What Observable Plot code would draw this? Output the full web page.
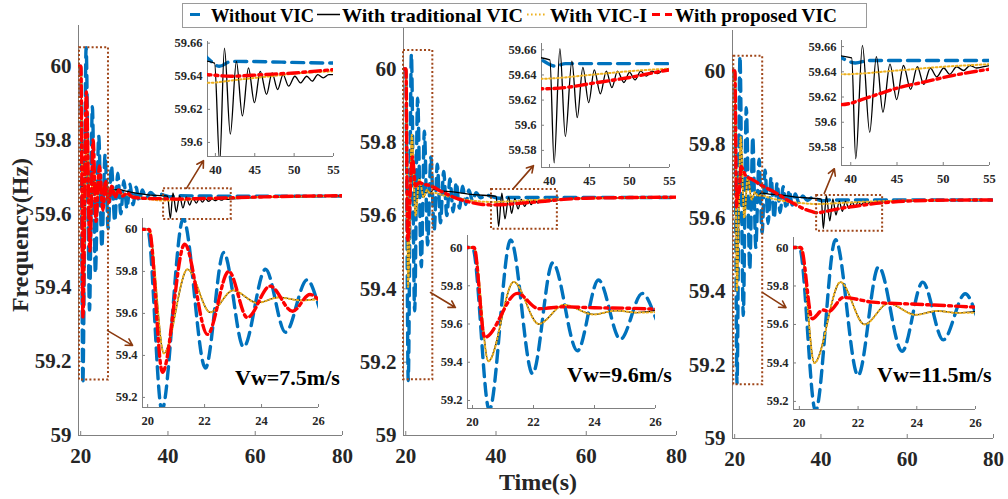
<!DOCTYPE html>
<html><head><meta charset="utf-8">
<script src="https://cdn.jsdelivr.net/npm/d3@7"></script>
<script src="https://cdn.jsdelivr.net/npm/@observablehq/plot@0.6"></script>
<style>
body{margin:0;background:#fff}
#root{position:relative;width:1008px;height:499px;background:#fff;overflow:hidden}
#root svg{position:absolute}
#root svg text{font-family:'Liberation Serif','Times New Roman',serif !important;font-weight:bold !important}
</style></head>
<body><div id="root"></div>
<script>
// ---------- data ----------
const seriesNames = ["Without VIC", "With traditional VIC", "With VIC-I", "With proposed VIC"];
const windLabels = ["Vw=7.5m/s", "Vw=9.6m/s", "Vw=11.5m/s"];

const timeTicksMain = [20, 40, 60, 80];
const freqTicksMain = [59, 59.2, 59.4, 59.6, 59.8, 60];
const timeTicksLate = [40, 45, 50, 55];
const freqTicksLate1 = [59.6, 59.62, 59.64, 59.66];
const freqTicksLate = [59.58, 59.6, 59.62, 59.64, 59.66];
const timeTicksEarly = [20, 22, 24, 26];
const freqTicksEarly = [59.2, 59.4, 59.6, 59.8, 60];

// Panel 1 (Vw = 7.5 m/s): [time s, frequency Hz]
const p1Without = [[19.5,60],[20.0,60],[20.5,59.14],[21.25,60.05],[22.03,59.34],[22.67,59.89],[23.37,59.44],[24.14,59.81],[24.84,59.51],[25.6,59.76],[26.3,59.56],[27.05,59.73],[27.8,59.58],[28.5,59.71],[29.2,59.6],[29.9,59.69],[30.6,59.615],[31.3,59.68],[32.0,59.625],[32.7,59.672],[33.4,59.633],[34.1,59.665],[35,59.642],[36,59.658],[37.2,59.648],[38.5,59.653],[39,59.651],[40.5,59.646],[42,59.649],[55,59.648],[80,59.648]];
const p1Traditional = [[19.5,60],[20.05,60],[20.57,59.41],[21.4,59.81],[22.2,59.605],[23.0,59.71],[23.85,59.65],[24.6,59.676],[25.4,59.662],[26.2,59.672],[27.2,59.664],[28.5,59.666],[31,59.66],[35,59.652],[39.9,59.648],[40.55,59.588],[41.15,59.657],[41.9,59.605],[42.67,59.649],[43.43,59.616],[44.2,59.645],[44.96,59.624],[45.7,59.643],[46.5,59.629],[47.2,59.642],[47.9,59.632],[48.6,59.641],[49.3,59.634],[50.1,59.64],[50.8,59.636],[51.6,59.64],[52.3,59.637],[53.0,59.641],[53.7,59.639],[54.4,59.641],[55,59.641],[58,59.643],[62,59.645],[70,59.647],[80,59.648]];
const p1VICI = [[19.5,60],[20.05,60],[20.57,59.41],[21.4,59.81],[22.2,59.605],[23.0,59.71],[23.85,59.65],[24.6,59.676],[25.4,59.662],[26.2,59.668],[28,59.66],[31,59.65],[35,59.641],[39,59.636],[43,59.638],[47,59.64],[51,59.642],[55,59.643],[62,59.646],[70,59.647],[80,59.648]];
const p1Proposed = [[19.5,60],[20.05,60],[20.52,59.32],[21.3,59.93],[22.1,59.5],[22.85,59.8],[23.5,59.58],[24.3,59.73],[25.09,59.61],[25.7,59.69],[26.4,59.63],[27.1,59.675],[27.9,59.645],[28.7,59.665],[29.6,59.648],[30.6,59.656],[32,59.645],[35,59.642],[39,59.641],[42,59.64],[46,59.641],[50,59.642],[55,59.644],[62,59.646],[70,59.648],[80,59.649]];

// Panel 2 (Vw = 9.6 m/s)
const p2Without = [[19.5,60],[20.0,60],[20.55,59.15],[21.25,60.04],[21.97,59.34],[22.63,59.92],[23.44,59.46],[24.13,59.83],[24.85,59.52],[25.57,59.76],[26.3,59.56],[27.0,59.74],[27.7,59.58],[28.4,59.72],[29.1,59.6],[29.8,59.7],[30.5,59.61],[31.2,59.69],[31.9,59.62],[32.6,59.68],[33.3,59.63],[34,59.67],[34.8,59.64],[35.6,59.662],[36.6,59.648],[37.8,59.656],[39,59.652],[40.7,59.647],[42,59.649],[55,59.649],[80,59.649]];
const p2Traditional = [[19.5,60],[20.05,60],[20.52,59.405],[21.35,59.82],[22.17,59.6],[23.0,59.7],[23.97,59.65],[24.7,59.67],[25.4,59.66],[26.2,59.672],[27.5,59.668],[30,59.665],[35,59.657],[40.05,59.652],[40.58,59.57],[41.3,59.661],[41.98,59.591],[42.8,59.651],[43.47,59.606],[44.17,59.646],[44.9,59.618],[45.6,59.644],[46.36,59.625],[47.1,59.643],[47.8,59.63],[48.5,59.643],[49.3,59.634],[50.0,59.642],[50.7,59.636],[51.4,59.643],[52.1,59.639],[52.8,59.643],[53.5,59.641],[54.2,59.644],[55,59.645],[60,59.647],[70,59.648],[80,59.649]];
const p2VICI = [[19.5,60],[20.05,60],[20.52,59.405],[21.35,59.82],[22.17,59.6],[23.0,59.7],[23.97,59.65],[24.7,59.67],[25.4,59.66],[26.2,59.662],[28,59.656],[31,59.648],[35,59.64],[39,59.637],[45,59.64],[50,59.643],[55,59.645],[62,59.647],[80,59.649]];
const p2Proposed = [[19.5,60],[20.05,60],[20.4,59.53],[21.47,59.76],[22.17,59.68],[23,59.69],[24,59.685],[25,59.683],[26,59.678],[28,59.665],[31,59.648],[34,59.637],[37,59.63],[39,59.629],[42,59.63],[45,59.633],[50,59.638],[55,59.644],[60,59.647],[70,59.649],[80,59.65]];

// Panel 3 (Vw = 11.5 m/s)
const p3Without = [[19.5,60],[20.0,60],[20.55,59.15],[21.23,60.04],[22.0,59.335],[22.7,59.9],[23.5,59.46],[24.2,59.82],[24.9,59.52],[25.65,59.76],[26.35,59.56],[27.05,59.73],[27.75,59.585],[28.45,59.71],[29.15,59.6],[29.85,59.695],[30.55,59.615],[31.25,59.685],[31.95,59.625],[32.65,59.675],[33.35,59.635],[34.05,59.665],[34.9,59.642],[35.8,59.66],[36.8,59.648],[38,59.655],[39,59.651],[40.5,59.647],[42,59.649],[55,59.649],[80,59.649]];
const p3Traditional = [[19.5,60],[20.05,60],[20.51,59.4],[21.4,59.82],[22.22,59.6],[23.03,59.71],[23.95,59.65],[24.7,59.67],[25.4,59.66],[26.2,59.668],[28,59.665],[31,59.662],[35,59.656],[40.1,59.651],[40.54,59.571],[41.26,59.661],[42.05,59.592],[42.77,59.652],[43.48,59.608],[44.24,59.646],[44.96,59.618],[45.7,59.645],[46.47,59.626],[47.2,59.644],[47.9,59.63],[48.6,59.643],[49.3,59.636],[50.05,59.643],[50.7,59.638],[51.45,59.644],[52.2,59.641],[52.9,59.645],[53.6,59.643],[55,59.645],[60,59.647],[70,59.648],[80,59.649]];
const p3VICI = [[19.5,60],[20.05,60],[20.51,59.4],[21.4,59.82],[22.22,59.6],[23.03,59.71],[23.95,59.65],[24.7,59.67],[25.4,59.66],[26.2,59.662],[28,59.655],[31,59.647],[35,59.641],[39,59.638],[45,59.641],[50,59.644],[55,59.646],[62,59.648],[80,59.649]];
const p3Proposed = [[19.5,60],[20.05,60],[20.44,59.63],[20.8,59.675],[21.0,59.668],[21.5,59.74],[22.5,59.716],[24,59.705],[25,59.698],[26,59.69],[28,59.678],[30,59.665],[32,59.65],[34,59.637],[36,59.625],[38,59.617],[39,59.614],[42,59.62],[45,59.627],[48,59.632],[51,59.637],[55,59.642],[60,59.646],[66,59.648],[80,59.649]];

// zoom regions marked on the main axes (data units)
const p1Boxes = [{x1:19.73,x2:26.37,y1:59.15,y2:60.05},{x1:39,x2:54.5,y1:59.585,y2:59.668}];
const p2Boxes = [{x1:19.5,x2:26.0,y1:59.152,y2:60.05},{x1:39,x2:53.6,y1:59.5625,y2:59.671}];
const p3Boxes = [{x1:19.8,x2:26.5,y1:59.146,y2:60.04},{x1:39,x2:54.3,y1:59.564,y2:59.661}];
const p1Arrows = [{x1:44.25,y1:59.669,x2:48.14,y2:59.744},{x1:26.15,y1:59.284,x2:31.9,y2:59.244}];
const p2Arrows = [{x1:43.88,y1:59.674,x2:48.3,y2:59.736},{x1:25.48,y1:59.39,x2:31.0,y2:59.349}];
const p3Arrows = [{x1:40.77,y1:59.667,x2:43.1,y2:59.734},{x1:26.5,y1:59.397,x2:31.9,y2:59.356}];

// ---------- drawing ----------
const root = document.getElementById("root");
const axisColor = "#808080";
const serif = "'Liberation Serif','Times New Roman',serif";
const seriesStyle = [
  {stroke:"#0072BD", strokeWidth:3.4, strokeDasharray:"12,7"},
  {stroke:"#000000", strokeWidth:1.3},
  {stroke:"#EDB120", strokeWidth:2, strokeDasharray:"1.6,2.4"},
  {stroke:"#FF0000", strokeWidth:3.4, strokeDasharray:"11,4,3,4"}
];
const fmt = d => `${+d.toFixed(2)}`;

function panel(o) {
  const [L, T, W, H] = o.area;
  const m = o.margin;
  const kx = (o.xd[1]-o.xd[0])/W, ky = (o.yd[1]-o.yd[0])/H;
  const marks = [
    Plot.ruleY([o.yd[0]], {x1:o.xd[0], x2:o.xd[1], stroke:axisColor, strokeWidth:1}),
    Plot.ruleX([o.xd[0]], {y1:o.yd[0], y2:o.yd[1], stroke:axisColor, strokeWidth:1}),
    Plot.ruleX(o.xt, {x:d=>d, y1:o.yd[0], y2:o.yd[0]+o.tick*ky, stroke:axisColor}),
    Plot.ruleY(o.yt, {y:d=>d, x1:o.xd[0], x2:o.xd[0]+o.tick*kx, stroke:axisColor}),
    Plot.axisX(o.xt, {tickSize:0, tickPadding:o.padX, tickFormat:fmt, label:null}),
    Plot.axisY(o.yt, {tickSize:0, tickPadding:o.padY, tickFormat:fmt, label:null}),
    ...o.series.map((s, i) => Plot.line(s, {x:d=>d[0], y:d=>d[1], curve:"monotone-x", clip:true, ...seriesStyle[i]}))
  ];
  if (o.boxes) marks.push(Plot.rect(o.boxes, {x1:"x1", x2:"x2", y1:"y1", y2:"y2", fill:"none", stroke:"#A0471A", strokeWidth:2, strokeDasharray:"2,2.2"}));
  if (o.arrows) marks.push(Plot.arrow(o.arrows, {x1:"x1", y1:"y1", x2:"x2", y2:"y2", stroke:"#8B3A0F", strokeWidth:1.6, headLength:7}));
  const svg = Plot.plot({
    width: W + m[3] + m[1], height: H + m[0] + m[2],
    marginTop: m[0], marginRight: m[1], marginBottom: m[2], marginLeft: m[3],
    x: {domain: o.xd}, y: {domain: o.yd},
    style: {background:"transparent", overflow:"visible", fontFamily:serif, fontWeight:"bold", fontSize:o.fs+"px", color:"#262626"},
    marks
  });
  svg.style.position = "absolute";
  svg.style.left = (L - m[3]) + "px";
  svg.style.top = (T - m[0]) + "px";
  svg.style.fontFamily = serif;
  svg.style.fontWeight = "bold";
  svg.style.fontSize = o.fs + "px";
  root.appendChild(svg);
}

const mainM = [10, 10, 45, 60];
const insM = [8, 8, 28, 45];
const panels = [
  {series:[p1Without,p1Traditional,p1VICI,p1Proposed], boxes:p1Boxes, arrows:p1Arrows, area:[78,25,264,410],
   late:{area:[207,41,126,115], yd:[59.5915,59.661], yt:freqTicksLate1}, early:{area:[142,218,176,189], xd:[19.82,26], yd:[59.152,60.052]}},
  {series:[p2Without,p2Traditional,p2VICI,p2Proposed], boxes:p2Boxes, arrows:p2Arrows, area:[403,28,273,407],
   late:{area:[541,43,128,124], yd:[59.5664,59.665], yt:freqTicksLate}, early:{area:[467,235,188,173], xd:[19.836,26], yd:[59.158,60.063]}},
  {series:[p3Without,p3Traditional,p3VICI,p3Proposed], boxes:p3Boxes, arrows:p3Arrows, area:[732,30,261,408],
   late:{area:[841,40,148,125], yd:[59.5657,59.6648], yt:freqTicksLate}, early:{area:[793,237,182,172], xd:[19.8,26], yd:[59.158,60.052]}}
];

for (const p of panels) {
  panel({area:p.area, margin:mainM, xd:[19.5,80], yd:[59,60.11], xt:timeTicksMain, yt:freqTicksMain,
         series:p.series, boxes:p.boxes, arrows:p.arrows, tick:4, padX:13, padY:7, fs:21});
  panel({area:p.late.area, margin:insM, xd:[39,55], yd:p.late.yd, xt:timeTicksLate, yt:p.late.yt,
         series:p.series, tick:3, padX:9, padY:5, fs:12.5});
  panel({area:p.early.area, margin:insM, xd:p.early.xd, yd:p.early.yd, xt:timeTicksEarly, yt:freqTicksEarly,
         series:p.series, tick:3, padX:9, padY:5, fs:12.5});
}

// ---------- overlay texts & legend ----------
const ns = "http://www.w3.org/2000/svg";
const ov = document.createElementNS(ns, "svg");
ov.setAttribute("width", 1008); ov.setAttribute("height", 499);
ov.style.left = "0px"; ov.style.top = "0px";
function el(tag, attrs, text) {
  const e = document.createElementNS(ns, tag);
  for (const k in attrs) e.setAttribute(k, attrs[k]);
  if (text != null) e.textContent = text;
  ov.appendChild(e); return e;
}
el("text", {transform:"translate(28,235) rotate(-90)", "text-anchor":"middle", "font-size":24, fill:"#262626"}, "Frequency(Hz)");
el("text", {x:538, y:490, "text-anchor":"middle", "font-size":24, fill:"#262626"}, "Time(s)");
const windPos = [[235,385],[567,382],[877,382]];
windLabels.forEach((t, i) => el("text", {x:windPos[i][0], y:windPos[i][1], "font-size":22, fill:"#000"}, t));

// legend
el("rect", {x:182.5, y:3.5, width:684, height:24, fill:"#fff", stroke:"#9a9a9a", "stroke-width":1});
const legendSw = [[190,200],[317,340],[527,547],[652,672]];
const legendTx = [211, 342, 550, 675];
const legendLen = [103, 181, 97, 162];
const legendDash = [null, null, "1.6,2.4", "8,5"];
seriesNames.forEach((n, i) => {
  const a = {x1:legendSw[i][0], x2:legendSw[i][1], y1:14.5, y2:14.5, stroke:seriesStyle[i].stroke,
             "stroke-width": i===1 ? 1.5 : (i===2 ? 2 : 3)};
  if (legendDash[i]) a["stroke-dasharray"] = legendDash[i];
  el("line", a);
  el("text", {x:legendTx[i], y:21.5, "font-size":19, fill:"#000", textLength:legendLen[i], lengthAdjust:"spacingAndGlyphs"}, n);
});
root.appendChild(ov);
</script></body></html>
